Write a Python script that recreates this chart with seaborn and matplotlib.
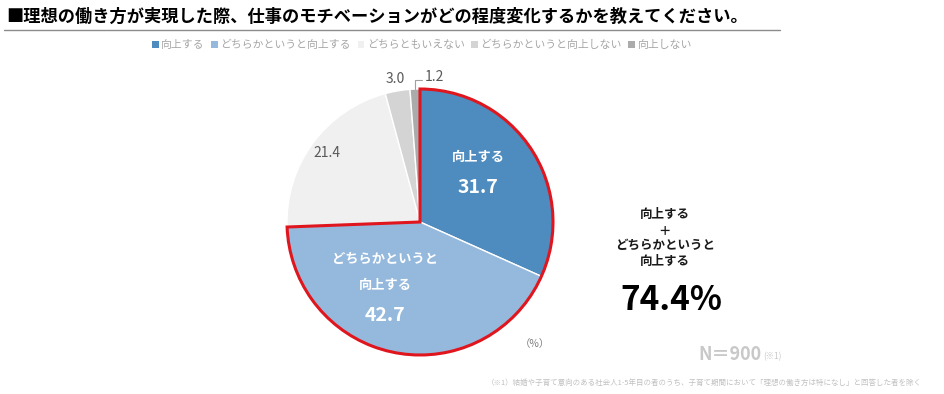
import matplotlib
matplotlib.use("Agg")
import matplotlib.pyplot as plt
from matplotlib.patches import Wedge, Patch
import numpy as np
import seaborn as sns

# data
categories = ["向上する", "どちらかというと向上する", "どちらともいえない",
              "どちらかというと向上しない", "向上しない"]
values = [31.7, 42.7, 21.4, 3.0, 1.2]
value_labels = ["31.7", "42.7", "21.4", "3.0", "1.2"]
combined_label = "向上する\n＋\nどちらかというと\n向上する"
combined_value = "74.4%"

colors = ["#4e8bbf", "#95b9dc", "#f0f0f0", "#d4d4d4", "#ababab"]

sns.set_theme(style="white")
plt.rcParams['font.family'] = ['Noto Sans CJK JP', 'DejaVu Sans']

fig = plt.figure(figsize=(9.45, 3.94), dpi=100)
fig.patch.set_facecolor("white")

# title + rule
fig.text(6/945, 1 - 17/394, "■理想の働き方が実現した際、仕事のモチベーションがどの程度変化するかを教えてください。",
         fontsize=12.4, fontweight="bold", color="black", va="center", ha="left")
fig.add_artist(plt.Line2D([4/945, 780/945], [1 - 30/394, 1 - 30/394],
                          color="#8c8c8c", lw=1, transform=fig.transFigure))

# legend
handles = [Patch(facecolor=c, edgecolor="none") for c in colors]
leg = fig.legend(handles, categories, loc="center", bbox_to_anchor=(422/945, 1 - 45/394),
                 ncol=5, frameon=False, fontsize=7.8, handlelength=0.6, handleheight=0.6,
                 handletextpad=0.25, columnspacing=0.6)
for t in leg.get_texts():
    t.set_color("#a6a6a6")

# pie
cx, cy, r = 420, 222, 133
ax = fig.add_axes([(cx - r)/945, (394 - cy - r)/394, 2*r/945, 2*r/394])
wedges, _ = ax.pie(values, colors=colors, startangle=90, counterclock=False,
                   wedgeprops=dict(edgecolor="white", linewidth=1))
ax.set_xlim(-1, 1)
ax.set_ylim(-1, 1)
ax.set_aspect("equal")
ax.axis("off")
for w in wedges:
    w.set_clip_on(False)

mids = [np.deg2rad((w.theta1 + w.theta2) / 2) for w in wedges]

# red outline around the top two
top2 = wedges[1].theta1
outline = Wedge((0, 0), 1, top2, 90, fill=False, edgecolor="#e0161e", linewidth=2.2, zorder=5)
outline.set_clip_on(False)
ax.add_patch(outline)

# inner labels
x1 = 0.52 * np.cos(mids[0])
ax.text(x1, 0.49, categories[0], ha="center", va="center",
        color="white", fontsize=9.5, fontweight="bold", zorder=6)
ax.text(x1, 0.26, value_labels[0], ha="center", va="center",
        color="white", fontsize=14, fontweight="bold", zorder=6)
x2 = 1.38 * np.cos(mids[1])
ax.text(x2, -0.28, "どちらかというと", ha="center", va="center",
        color="white", fontsize=9.5, fontweight="bold", zorder=6)
ax.text(x2, -0.475, categories[0], ha="center", va="center",
        color="white", fontsize=9.5, fontweight="bold", zorder=6)
ax.text(x2, -0.70, value_labels[1], ha="center", va="center",
        color="white", fontsize=14, fontweight="bold", zorder=6)

# outer labels
ax.text(0.87 * np.cos(mids[2]), 0.87 * np.sin(mids[2]), value_labels[2], ha="center", va="center",
        color="#595959", fontsize=10, zorder=6)
ax.text(1.09 * np.cos(mids[3]), 1.09 * np.sin(mids[3]), value_labels[3], ha="center", va="center",
        color="#595959", fontsize=10, zorder=6)
x5, y5 = np.cos(mids[4]), np.sin(mids[4])
ax.plot([x5, x5, x5 + 0.05], [y5, 1.07, 1.07], color="#a0a0a0", lw=0.8, clip_on=False, zorder=6)
ax.text(x5 + 0.07, 1.09, value_labels[4], ha="left", va="center",
        color="#595959", fontsize=10, zorder=6)

# right side summary
fig.text(665/945, 1 - 238/394, combined_label, ha="center", va="center", fontsize=9,
         fontweight="bold", color="#1a1a1a", linespacing=1.25)
fig.text(671/945, 1 - 300/394, combined_value, ha="center", va="center", fontsize=24,
         fontweight="bold", color="black")

fig.text(535/945, 1 - 344/394, "（%）", ha="center", va="center", fontsize=7.5, color="#7f7f7f")
fig.text(762/945, 1 - 355/394, "N＝900", ha="right", va="center", fontsize=13, fontweight="bold", color="#c8c8c8")
fig.text(763/945, 1 - 357/394, "(※1)", ha="left", va="center", fontsize=6, color="#c8c8c8")
fig.text(487/945, 1 - 383/394,
         "（※1）結婚や子育て意向のある社会人1-5年目の者のうち、子育て期間において「理想の働き方は特になし」と回答した者を除く",
         ha="left", va="center", fontsize=5.4, color="#c0c0c0")

fig.savefig("out.png", dpi=100, facecolor="white")
